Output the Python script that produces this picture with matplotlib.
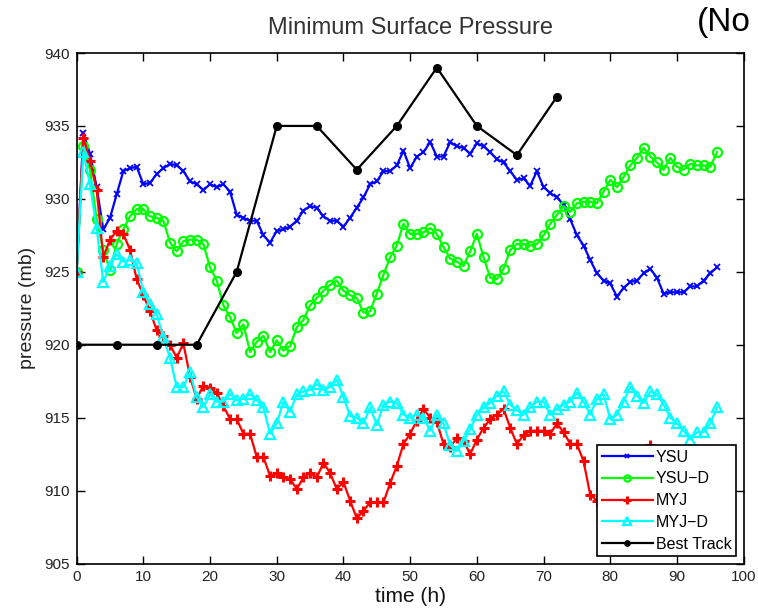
import matplotlib
matplotlib.use("Agg")
import matplotlib.pyplot as plt
import numpy as np

plt.rcParams['font.family'] = ['Liberation Sans', 'DejaVu Sans']

hours = list(range(0, 97))

ysu = [925.0, 934.5, 933.1, 930.8, 927.9, 928.7, 930.3, 931.9, 932.1, 932.2,
       931.0, 931.1, 931.7, 932.1, 932.4, 932.3, 931.9, 931.2, 931.0, 930.6,
       931.0, 930.8, 931.0, 930.5, 928.9, 928.7, 928.5, 928.5, 927.5, 927.0,
       927.8, 927.9, 928.1, 928.5, 929.2, 929.5, 929.4, 928.8, 928.5, 928.5,
       928.1, 928.7, 929.4, 930.1, 931.0, 931.2, 931.9, 931.9, 932.3, 933.3,
       932.1, 932.9, 933.2, 933.9, 932.9, 932.9, 933.9, 933.6, 933.5, 933.1,
       933.8, 933.6, 933.2, 932.7, 932.5, 931.9, 931.3, 931.4, 930.9, 931.9,
       930.8, 930.4, 930.1, 929.6, 928.6, 927.5, 926.8, 925.8, 924.9, 924.4,
       924.2, 923.3, 923.9, 924.3, 924.4, 924.9, 925.2, 924.6, 923.5, 923.6,
       923.6, 923.6, 924.0, 924.0, 924.4, 924.9, 925.3]

ysu_d = [925.0, 933.6, 932.0, 928.6, 926.5, 925.1, 926.9, 927.9, 928.8, 929.3,
         929.3, 928.8, 928.7, 928.5, 927.0, 926.4, 927.1, 927.2, 927.2, 926.9,
         925.3, 924.4, 922.7, 921.9, 920.8, 921.4, 919.5, 920.2, 920.6, 919.5,
         920.3, 919.6, 919.9, 921.2, 921.7, 922.7, 923.2, 923.7, 924.1, 924.4,
         923.7, 923.4, 923.2, 922.2, 922.3, 923.5, 924.8, 926.0, 926.8, 928.3,
         927.6, 927.6, 927.7, 928.0, 927.6, 926.7, 925.9, 925.7, 925.4, 926.4,
         927.6, 926.0, 924.6, 924.5, 925.2, 926.5, 926.9, 926.9, 926.8, 926.9,
         927.5, 928.3, 928.9, 929.5, 929.1, 929.7, 929.8, 929.8, 929.7, 930.5,
         931.3, 930.8, 931.5, 932.3, 932.8, 933.5, 932.9, 932.5, 932.0, 932.8,
         932.2, 932.0, 932.4, 932.3, 932.3, 932.2, 933.2]

myj = [925.0, 934.2, 932.6, 930.6, 926.0, 927.2, 927.8, 927.6, 926.5, 924.5,
       923.4, 922.3, 921.0, 920.6, 920.0, 919.1, 920.1, 917.8, 916.3, 917.2,
       917.0, 916.7, 915.8, 914.9, 914.9, 913.9, 913.9, 912.3, 912.3, 911.0,
       911.2, 910.9, 910.8, 910.1, 910.9, 911.2, 910.9, 911.9, 911.2, 910.1,
       910.6, 909.3, 908.1, 908.6, 909.2, 909.2, 909.2, 910.5, 911.7, 913.2,
       913.9, 914.8, 915.6, 915.0, 914.7, 913.2, 913.0, 913.6, 913.4, 912.5,
       913.5, 914.3, 914.9, 915.2, 915.6, 914.3, 913.2, 913.8, 914.1, 914.1,
       914.1, 913.9, 914.6, 914.0, 913.2, 913.2, 912.0, 909.7, 909.3, 909.6,
       910.2, 910.8, 911.2, 911.8, 912.3, 912.7, 913.1, 912.5, 912.0, 911.6,
       911.2, 911.0, 911.3, 911.5, 911.8, 912.0, 912.2]

myj_d = [925.0, 933.2, 931.0, 928.0, 924.3, 925.4, 926.2, 925.7, 925.8, 925.6,
         923.6, 922.8, 922.1, 920.5, 919.1, 917.1, 917.1, 918.1, 916.4, 915.7,
         916.6, 916.1, 916.1, 916.6, 916.2, 916.3, 916.6, 916.2, 915.7, 913.9,
         914.6, 916.1, 915.4, 916.6, 916.8, 916.9, 917.3, 916.9, 917.1, 917.6,
         916.4, 915.1, 915.0, 914.6, 915.7, 914.5, 915.9, 916.1, 916.0, 915.2,
         915.0, 915.2, 915.0, 914.1, 915.2, 914.6, 913.1, 912.7, 913.4, 914.2,
         915.2, 915.7, 916.0, 916.5, 916.8, 915.9, 915.5, 915.2, 915.7, 916.1,
         916.1, 915.2, 915.6, 915.9, 916.1, 916.7, 916.1, 915.2, 916.3, 916.6,
         914.9, 915.2, 916.1, 917.1, 916.5, 916.0, 916.8, 916.6, 915.9, 915.0,
         914.6, 914.1, 913.5, 914.0, 914.0, 914.6, 915.7]

best_hours = [0, 6, 12, 18, 24, 30, 36, 42, 48, 54, 60, 66, 72]
best_track = [920, 920, 920, 920, 925, 935, 935, 932, 935, 939, 935, 933, 937]

series_labels = ['YSU', 'YSU\u2212D', 'MYJ', 'MYJ\u2212D', 'Best Track']
x_ticks = list(range(0, 101, 10))
y_ticks = list(range(905, 941, 5))

fig = plt.figure(figsize=(7.58, 6.10), dpi=100)
ax = fig.add_axes([0.1011, 0.0762, 0.8800, 0.8369])

lw = 1.6
ax.plot(hours, ysu, color='#0000ff', lw=lw, marker='x', ms=4.5, mew=1.3, label=series_labels[0])
ax.plot(hours, ysu_d, color='#00ff00', lw=lw, marker='o', ms=6.5, mew=1.6, mfc='none', label=series_labels[1])
ax.plot(hours, myj, color='#ff0000', lw=lw, marker='+', ms=7.5, mew=2.2, label=series_labels[2])
ax.plot(hours, myj_d, color='#00ffff', lw=lw, marker='^', ms=7.5, mew=1.6, mfc='none', label=series_labels[3])
ax.plot(best_hours, best_track, color='black', lw=lw, marker='o', ms=5.5, label=series_labels[4])

ax.set_xlim(0, 100)
ax.set_ylim(905, 940)
ax.set_xticks(x_ticks)
ax.set_yticks(y_ticks)
ax.tick_params(direction='in', length=6, width=1, top=True, right=True,
               labelsize=11, colors='black', labelcolor='#222222', pad=5)
for s in ax.spines.values():
    s.set_linewidth(1.2)

ax.set_title('Minimum Surface Pressure', fontsize=17, color='#333333', pad=14)
ax.set_xlabel('time (h)', fontsize=15, color='#111111', labelpad=2)
ax.set_ylabel('pressure (mb)', fontsize=14, color='#222222', labelpad=6)

leg = ax.legend(loc='lower right', fontsize=11.5, frameon=True, fancybox=False,
                edgecolor='black', framealpha=1, handlelength=3.2, handletextpad=0.2,
                borderpad=0.3, labelspacing=0.42, borderaxespad=0.45, markerscale=0.7)
leg.get_frame().set_linewidth(1.2)

fig.text(697 / 758, 1 - 31 / 610, '(No', fontsize=24, color='black', va='baseline', ha='left')

fig.savefig('out.png', dpi=100)
